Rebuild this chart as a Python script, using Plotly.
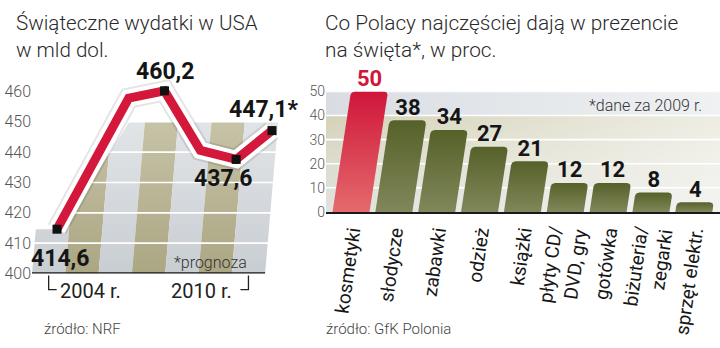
import numpy as np
import plotly.graph_objects as go

# Holiday retail sales in the USA, bn USD (2010 = forecast)
years = [2004, 2005, 2006, 2007, 2008, 2009, 2010]
sales = [414.6, 436.0, 457.8, 460.2, 440.6, 437.6, 447.1]
marked_years = [2004, 2007, 2009, 2010]
marked_text = ["414,6", "460,2", "437,6", "447,1*"]
sales_ticks = [400, 410, 420, 430, 440, 450, 460]

# Most frequent Christmas gifts in Poland, % of answers (2009)
gifts = ["kosmetyki", "słodycze", "zabawki", "odzież", "książki",
         "płyty CD/<br>DVD, gry", "gotówka", "biżuteria/<br>zegarki", "sprzęt elektr."]
shares = [50, 38, 34, 27, 21, 12, 12, 8, 4]
share_ticks = [0, 10, 20, 30, 40, 50]

W, H = 720, 348
TXT = "Roboto"
NUM = "Roboto"


def fx(p):
    return p / W


def fy(p):
    return 1 - p / H


# ---------------- left panel geometry ----------------
L0, L1 = 32, 292            # horizontal extent (px)
BASE_PX, TOP_PX = 280, 70   # y of the 400 line and top of the panel (px)
UNIT_PX = 3.2               # px per bn USD
YEAR_PX = 33.3              # width of one background stripe
band_range = [years[0] - 0.5, years[0] - 0.5 + (L1 - L0) / YEAR_PX]
LINE_X0, LINE_X1 = 57, 272  # first / last point of the red line (px)
line_k = (LINE_X1 - LINE_X0) / (years[-1] - years[0])
line_range = [years[0] - (LINE_X0 - L0) / line_k, years[-1] + (L1 - LINE_X1) / line_k]
y_lo = sales_ticks[0]
y_range_l = [y_lo, y_lo + (BASE_PX - TOP_PX) / UNIT_PX]


def band_px(x):
    return L0 + (x - band_range[0]) * YEAR_PX


def px_band(p):
    return band_range[0] + (p - L0) / YEAR_PX


def line_px(x):
    return L0 + (x - line_range[0]) * line_k


cap = sales_ticks[-2]
rise = (sales[1] - sales[0]) / (line_px(years[1]) - line_px(years[0]))


def backdrop_top(p):
    return float(np.clip(sales[0] + rise * (p - line_px(years[0])), sales[0], cap))


LEAN = 13 / 50  # px of slant per bn USD


def lean(v):
    return (v - y_lo) * LEAN


fig = go.Figure()

# striped backdrop, one slanted stripe per year
for i, yr in enumerate(years):
    a, b = band_px(yr - 0.5), band_px(yr + 0.5)
    ps = np.linspace(a, b, 16)
    tops = [backdrop_top(p) for p in ps]
    xs_px = [a, b] + [p + lean(v) for p, v in zip(ps[::-1], tops[::-1])] + [a]
    ys = [y_lo, y_lo] + tops[::-1] + [y_lo]
    olive = i % 2 == 1
    cs = [[0, "#a9a480"], [1, "#c6c2a6"]] if olive else [[0, "#c7ccd1"], [1, "#e1e4e7"]]
    fig.add_trace(go.Scatter(
        x=[px_band(p) for p in xs_px], y=ys, xaxis="x", yaxis="y",
        mode="lines", line=dict(width=0), fill="toself",
        fillgradient=dict(type="vertical", colorscale=cs, start=y_lo, stop=cap),
        hoverinfo="skip"))

# white grid lines across the backdrop
for v in sales_ticks[1:-1]:
    fig.add_trace(go.Scatter(
        x=[band_range[0], px_band(band_px(years[-1] + 0.5) + lean(v) + 2)], y=[v, v],
        xaxis="x", yaxis="y", mode="lines", line=dict(color="white", width=1.6),
        hoverinfo="skip"))

# base line
fig.add_trace(go.Scatter(
    x=[px_band(L0 - 3), years[-1] + 0.5], y=[y_lo, y_lo], xaxis="x", yaxis="y",
    mode="lines", line=dict(color="#1a1a1a", width=2.4), hoverinfo="skip"))

# red sales line with white halo
for col, wd in [("rgba(0,0,0,0.10)", 21), ("white", 17), ("#d3183b", 9)]:
    fig.add_trace(go.Scatter(
        x=years, y=sales, xaxis="x2", yaxis="y", mode="lines",
        line=dict(color=col, width=wd), hoverinfo="skip"))

marked_vals = [sales[years.index(y)] for y in marked_years]
fig.add_trace(go.Scatter(
    x=marked_years, y=marked_vals, xaxis="x2", yaxis="y", mode="markers",
    marker=dict(symbol="square", size=9, color="#111111"), cliponaxis=False,
    hoverinfo="skip"))

annotations = []
shifts = [(3, -29), (0, 19), (-13, -19), (-9, 21)]
for yr, v, t, (dx, dy) in zip(marked_years, marked_vals, marked_text, shifts):
    annotations.append(dict(
        x=yr, y=v, xref="x2", yref="y", text=t, showarrow=False,
        xshift=dx, yshift=dy, font=dict(family=NUM, size=23, color="#151515", weight="bold")))

# ---------------- right panel geometry ----------------
R0, R1 = 326, 720
R_BASE, R_TOP = 215, 88
PITCH = 42.85
FIRST_BAR = 351
r_range = [(R0 - FIRST_BAR) / PITCH, (R1 - FIRST_BAR) / PITCH]
r_unit = (R_BASE - R_TOP) / share_ticks[-1]     # px per percent
BAR_W = 37 / PITCH
bar_lean = 18.5 / share_ticks[-1] / PITCH       # slant in category units per percent
RAD_X, RAD_Y = 4 / PITCH, 4 / r_unit

# backdrop of the bar chart
xl, xr = r_range[0], r_range[1]
fig.add_trace(go.Scatter(
    x=[xl, xr, xr, xl, xl], y=[40, 40, 50, 50, 40], xaxis="x3", yaxis="y2",
    mode="lines", line=dict(width=0), fill="toself",
    fillgradient=dict(type="horizontal", colorscale=[[0, "#d9dde2"], [1, "#eff1f3"]]),
    hoverinfo="skip"))
fig.add_trace(go.Scatter(
    x=[xl, xr, xr, xl, xl], y=[0, 0, 40, 40, 0], xaxis="x3", yaxis="y2",
    mode="lines", line=dict(width=0), fill="toself",
    fillgradient=dict(type="vertical", colorscale=[[0, "#e1e2de"], [0.55, "#dcdccc"], [1, "#d4d2b9"]]),
    hoverinfo="skip"))
fig.add_trace(go.Scatter(
    x=[xl, xr, xr, xl, xl], y=[0, 0, 40, 40, 0], xaxis="x3", yaxis="y2",
    mode="lines", line=dict(width=0), fill="toself",
    fillgradient=dict(type="horizontal",
                      colorscale=[[0, "rgba(255,255,255,0)"], [1, "rgba(255,255,255,0.6)"]]),
    hoverinfo="skip"))
for v in share_ticks[1:]:
    fig.add_trace(go.Scatter(
        x=[xl, xr], y=[v, v], xaxis="x3", yaxis="y2", mode="lines",
        line=dict(color="white", width=1.6), hoverinfo="skip"))

# slanted bars with rounded top corners
arc = np.linspace(0, np.pi / 2, 6)
for i, v in enumerate(shares):
    c0, c1 = i - BAR_W / 2, i + BAR_W / 2
    ry = min(RAD_Y, v / 2)
    pts = [(c0, 0), (c1, 0), (c1, v - ry)]
    pts += [(c1 - RAD_X + RAD_X * np.cos(t), v - ry + ry * np.sin(t)) for t in arc]
    pts += [(c0 + RAD_X - RAD_X * np.cos(t), v - ry + ry * np.sin(t)) for t in arc[::-1]]
    pts += [(c0, 0)]
    xs = [x + bar_lean * y for x, y in pts]
    ys = [y for _, y in pts]
    cs = [[0, "#e46a6c"], [1, "#d0163a"]] if i == 0 else [[0, "#80875a"], [1, "#56612a"]]
    fig.add_trace(go.Scatter(
        x=xs, y=ys, xaxis="x3", yaxis="y2", mode="lines", line=dict(width=0),
        fill="toself", fillgradient=dict(type="vertical", colorscale=cs),
        hoverinfo="skip"))

fig.add_trace(go.Scatter(
    x=[i + bar_lean * v for i, v in enumerate(shares)], y=shares,
    xaxis="x3", yaxis="y2", mode="text", text=[str(v) for v in shares],
    textposition="top center", cliponaxis=False,
    textfont=dict(family=NUM, size=22, weight="bold",
                  color=["#d0163a"] + ["#151515"] * (len(shares) - 1)),
    hoverinfo="skip"))

# ---------------- texts ----------------
def note(x, y, text, size, color="#333333", xanchor="left", yanchor="middle", weight=300, family=TXT):
    annotations.append(dict(
        x=fx(x), y=fy(y), xref="paper", yref="paper", text=text, showarrow=False,
        xanchor=xanchor, yanchor=yanchor, align="left",
        font=dict(family=family, size=size, color=color, weight=weight)))


note(14, 1, "Świąteczne wydatki w USA<br>w mld dol.", 20.6, "#2a2a2a", yanchor="top")
note(323, 1, "Co Polacy najczęściej dają w prezencie<br>na święta*, w proc.", 20.8, "#2a2a2a", yanchor="top")
note(172, 268, "*prognoza", 16, "#333333")
note(587, 103, "*dane za 2009 r.", 16, "#333333")
note(42, 339, "źródło: NRF", 15, "#444444")
note(324, 338, "źródło: GfK Polonia", 15, "#444444")

annotations.append(dict(
    x=years[0], y=fy(298), xref="x", yref="paper", text=f"{years[0]} r.", showarrow=False,
    xanchor="left", yanchor="middle", xshift=9,
    font=dict(family=TXT, size=20, color="#222222")))
annotations.append(dict(
    x=years[-1], y=fy(298), xref="x", yref="paper", text=f"{years[-1]} r.", showarrow=False,
    xanchor="right", yanchor="middle", xshift=-14,
    font=dict(family=TXT, size=20, color="#222222")))

hook = 8 / YEAR_PX
shapes = [
    dict(type="path", xref="x", yref="paper",
         path=f"M {years[0]},{fy(282)} L {years[0]},{fy(297)} L {years[0] + hook},{fy(297)}",
         line=dict(color="#222222", width=1.3)),
    dict(type="path", xref="x", yref="paper",
         path=f"M {years[-1]},{fy(282)} L {years[-1]},{fy(297)} L {years[-1] - hook},{fy(297)}",
         line=dict(color="#222222", width=1.3)),
]

fig.update_layout(
    width=W, height=H, margin=dict(l=0, r=0, t=0, b=0),
    paper_bgcolor="white", plot_bgcolor="rgba(0,0,0,0)", showlegend=False,
    annotations=annotations, shapes=shapes,
    xaxis=dict(domain=[fx(L0), fx(L1)], range=band_range, visible=False),
    xaxis2=dict(overlaying="x", anchor="y", range=line_range, visible=False),
    yaxis=dict(domain=[fy(BASE_PX), fy(TOP_PX)], range=y_range_l, tickvals=sales_ticks,
               showgrid=False, zeroline=False, ticks="", showline=False,
               tickfont=dict(family=TXT, size=16, color="#555555", weight=300)),
    xaxis3=dict(domain=[fx(R0), fx(R1)], range=r_range, anchor="y2",
                tickvals=list(range(len(gifts))), ticktext=gifts, tickangle=-82,
                showgrid=False, zeroline=False, showline=True, linecolor="#1a1a1a",
                linewidth=2.4, ticks="",
                tickfont=dict(family=TXT, size=19, color="#161616")),
    yaxis2=dict(domain=[fy(R_BASE), fy(R_TOP)], range=[0, share_ticks[-1]], anchor="x3",
                tickvals=share_ticks, showgrid=False, zeroline=False, ticks="",
                tickfont=dict(family=TXT, size=14, color="#555555", weight=300)),
)

fig.write_html("out.html")
